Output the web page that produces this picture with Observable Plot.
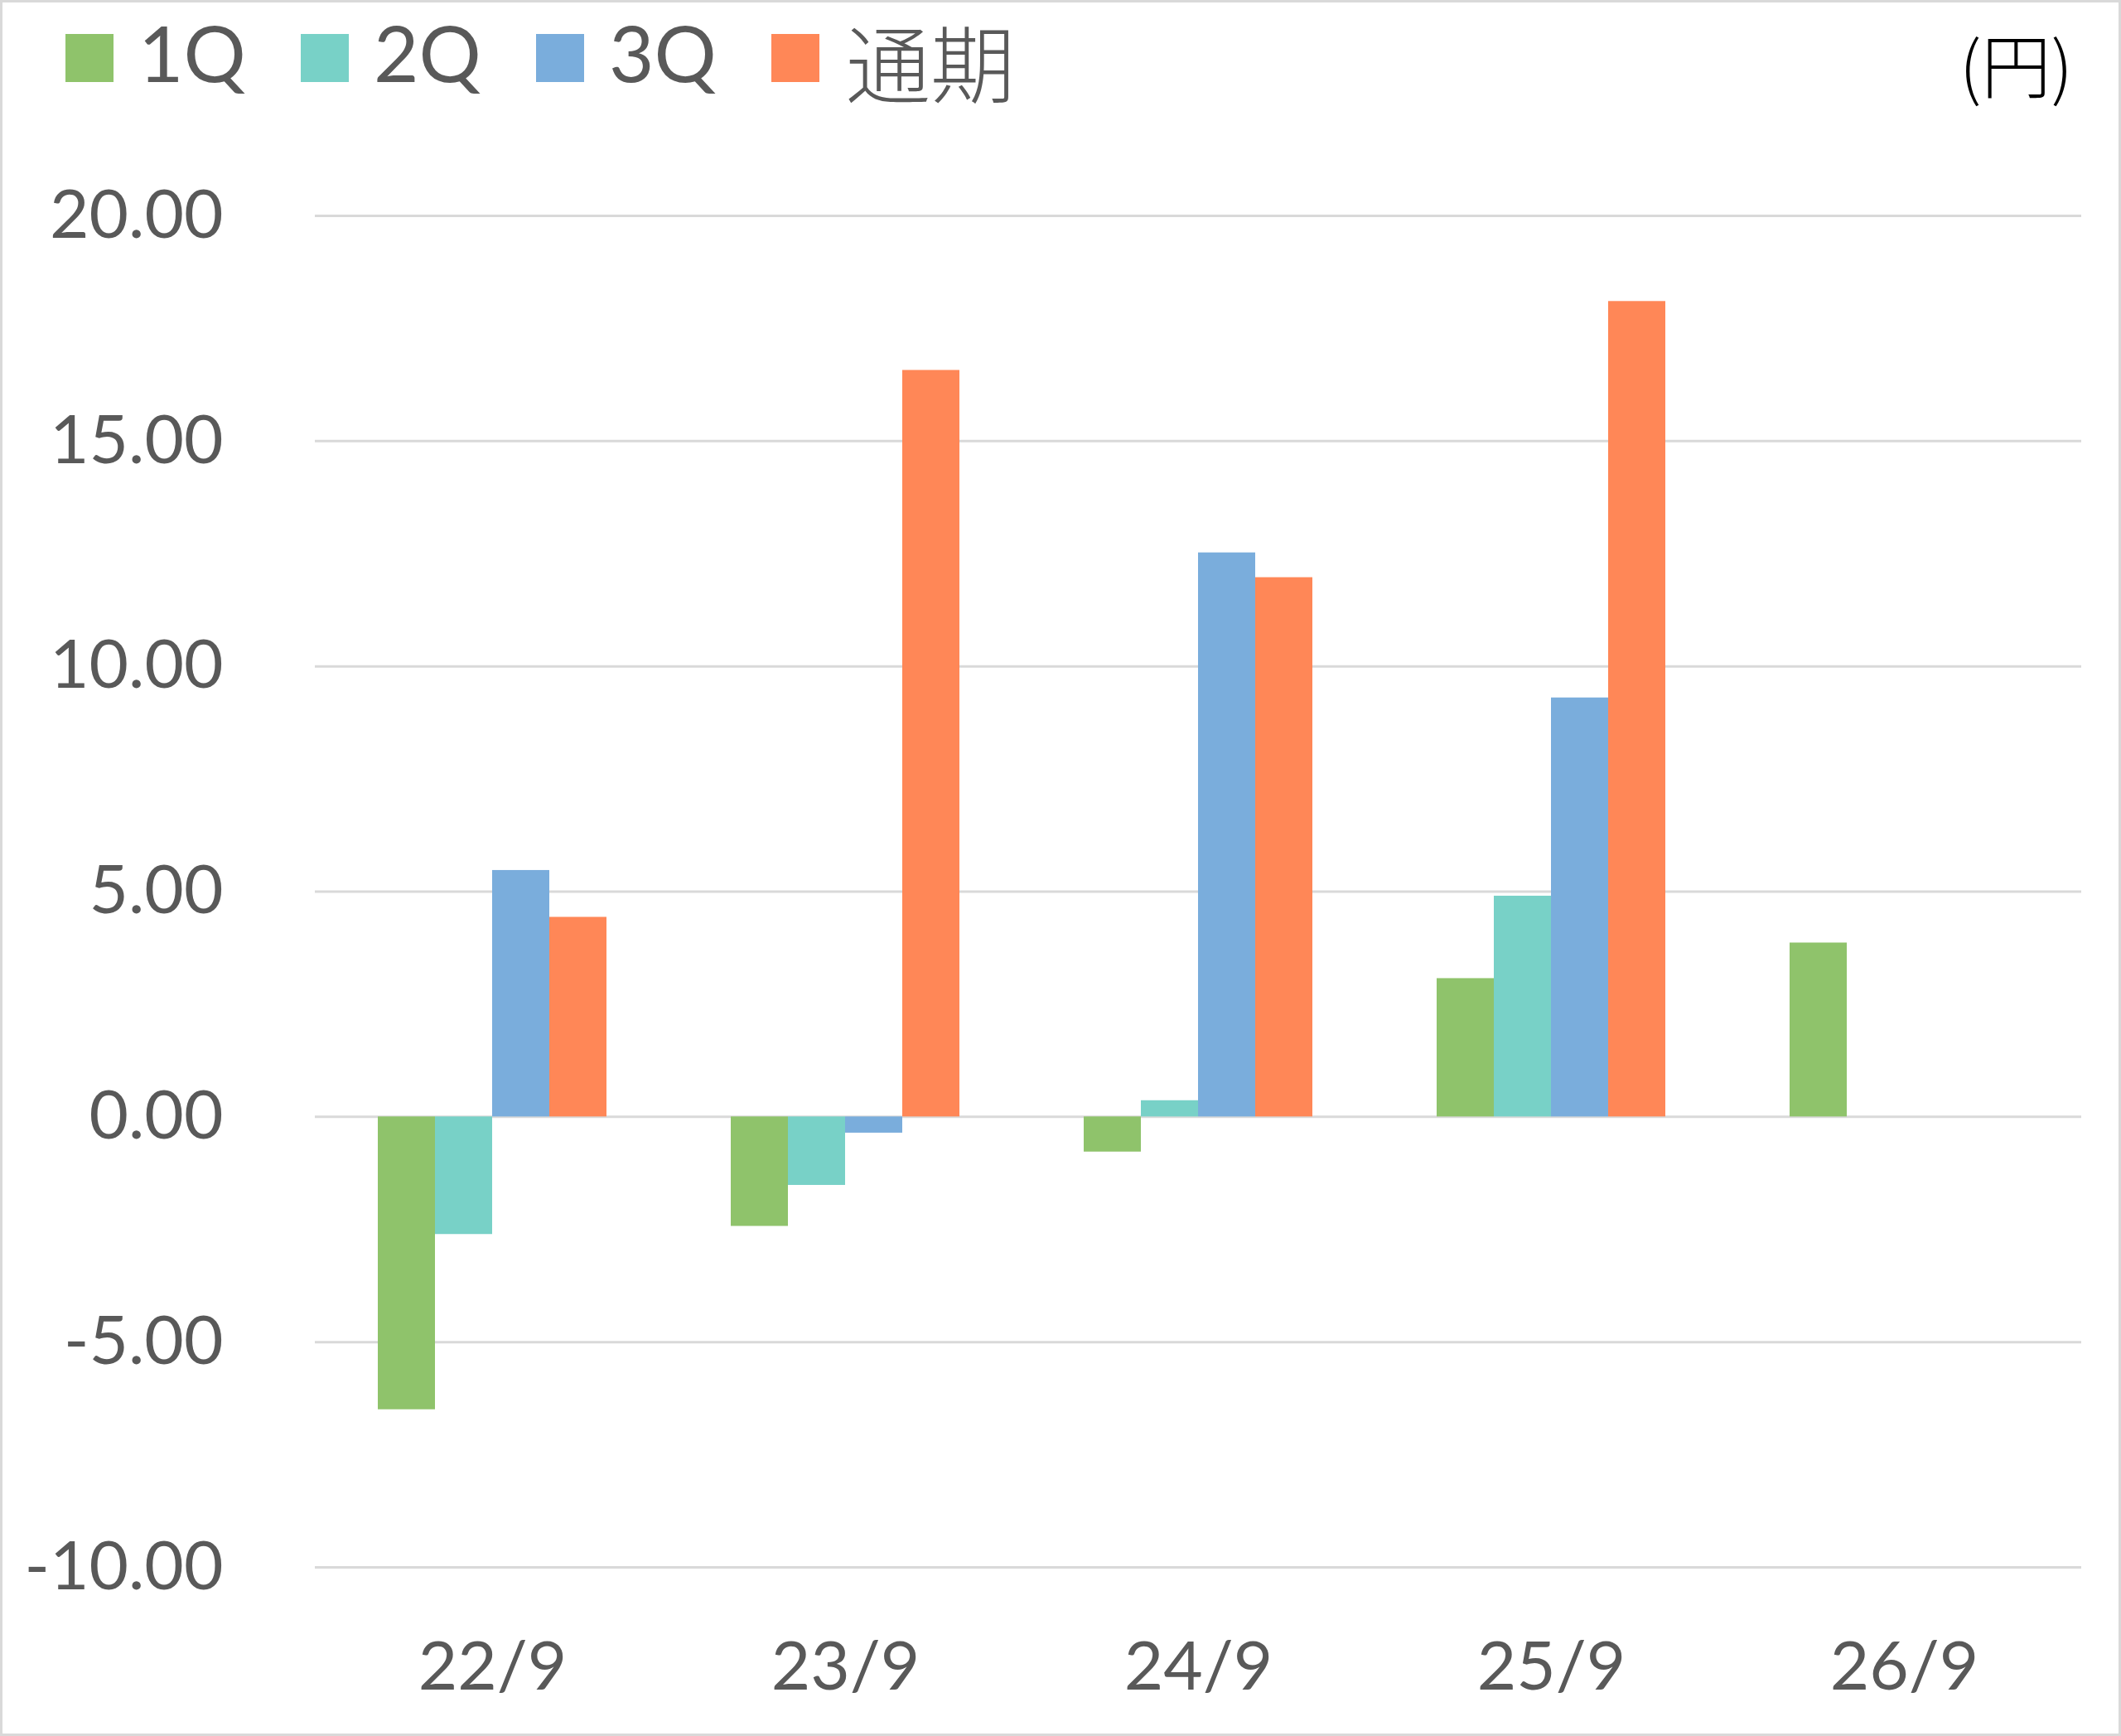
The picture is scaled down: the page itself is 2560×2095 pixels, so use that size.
<!DOCTYPE html>
<html>
<head>
<meta charset="utf-8">
<script src="https://cdn.jsdelivr.net/npm/d3@7"></script>
<script src="https://cdn.jsdelivr.net/npm/@observablehq/plot@0.6"></script>
<style>
  html, body { margin: 0; padding: 0; background: #fff; }
  #wrap { position: relative; width: 2560px; height: 2095px; background: #fff; overflow: hidden; }
  #frame { position: absolute; left: 0; top: 0; width: 2560px; height: 2095px; box-sizing: border-box; border: 3px solid #d9d9d9; pointer-events: none; z-index: 10; }
  #legend { position: relative; width: 2560px; height: 180px; }
  .sw { position: absolute; top: 41px; width: 58px; height: 58px; }
  .lab { position: absolute; line-height: 1; white-space: nowrap; color: #595959; }
  .lat { font-family: Lato, sans-serif; font-size: 94px; top: 16px; }
  .cjk { font-family: "Noto Sans CJK JP", sans-serif; font-size: 102px; font-weight: 300; top: 22px; }
  #unit { position: absolute; right: 58px; top: 34px; font-family: "Noto Sans CJK JP", sans-serif; font-size: 84px; font-weight: 300; line-height: 1; color: #000; white-space: nowrap; }
  #chart { position: relative; width: 2560px; height: 1915px; }
  #chart svg { display: block; position: absolute; left: 0; top: 0; }
</style>
</head>
<body>
<div id="wrap">
  <div id="legend"></div>
  <div id="chart"></div>
  <div id="frame"></div>
</div>
<script>
const categories = ["22/9", "23/9", "24/9", "25/9", "26/9"];
const series = ["1Q", "2Q", "3Q", "通期"];
const q1Values = [-6.50, -2.43, -0.78, 3.07, 3.86];
const q2Values = [-2.61, -1.52, 0.36, 4.90, null];
const q3Values = [5.47, -0.36, 12.52, 9.30, null];
const fullYearValues = [4.43, 16.57, 11.97, 18.10, null];
const seriesColors = ["#8fc36b", "#78d1c7", "#7aaddc", "#ff8757"];
const yTicks = [-10, -5, 0, 5, 10, 15, 20];
const yTickLabels = ["-10.00", "-5.00", "0.00", "5.00", "10.00", "15.00", "20.00"];
const unitLabel = "(円)";

const seriesValues = [q1Values, q2Values, q3Values, fullYearValues];
const rows = categories.flatMap((c, i) =>
  seriesValues.map((arr, j) => ({cat: c, series: series[j], value: arr[i]}))
).filter(d => d.value != null);

// Legend
const legend = document.getElementById("legend");
series.forEach((s, i) => {
  const sw = document.createElement("div");
  sw.className = "sw";
  sw.style.left = (79 + 284 * i) + "px";
  sw.style.background = seriesColors[i];
  legend.appendChild(sw);
  const lab = document.createElement("div");
  const isCjk = /[^\x00-\x7f]/.test(s);
  lab.className = "lab " + (isCjk ? "cjk" : "lat");
  lab.style.left = (79 + 284 * i + (isCjk ? 90 : 88)) + "px";
  lab.textContent = s;
  legend.appendChild(lab);
});
const unit = document.createElement("div");
unit.id = "unit";
unit.textContent = unitLabel;
legend.appendChild(unit);

const common = {
  width: 2560,
  height: 1915,
  marginLeft: 380,
  marginRight: 48,
  marginTop: 80,
  marginBottom: 204,
  style: {
    fontFamily: "Lato, 'Noto Sans CJK JP', sans-serif",
    fontSize: "82px",
    color: "#595959",
    background: "transparent",
    overflow: "visible"
  }
};

// Background layer: gridlines and y tick labels across the whole frame
const back = Plot.plot({
  ...common,
  y: {domain: [-10, 20], axis: null},
  marks: [
    Plot.ruleY(yTicks, {stroke: "#d9d9d9", strokeWidth: 3}),
    Plot.text(yTicks, {y: d => d, text: (d, i) => yTickLabels[i], frameAnchor: "left", textAnchor: "end", dx: -111, fill: "#595959", fontSize: 82})
  ]
});

// Foreground layer: grouped bars, faceted by period
const front = Plot.plot({
  ...common,
  fx: {domain: categories, paddingInner: 0.352, paddingOuter: 0.176, align: 0.5, axis: "bottom", tickSize: 0, tickPadding: 89, label: null},
  x: {domain: series, padding: 0, axis: null},
  y: {domain: [-10, 20], axis: null},
  color: {domain: series, range: seriesColors},
  marks: [
    Plot.barY(rows, {fx: "cat", x: "series", y: "value", fill: "series", inset: 0})
  ]
});

const chartDiv = document.getElementById("chart");
chartDiv.appendChild(back);
chartDiv.appendChild(front);
</script>
</body>
</html>
